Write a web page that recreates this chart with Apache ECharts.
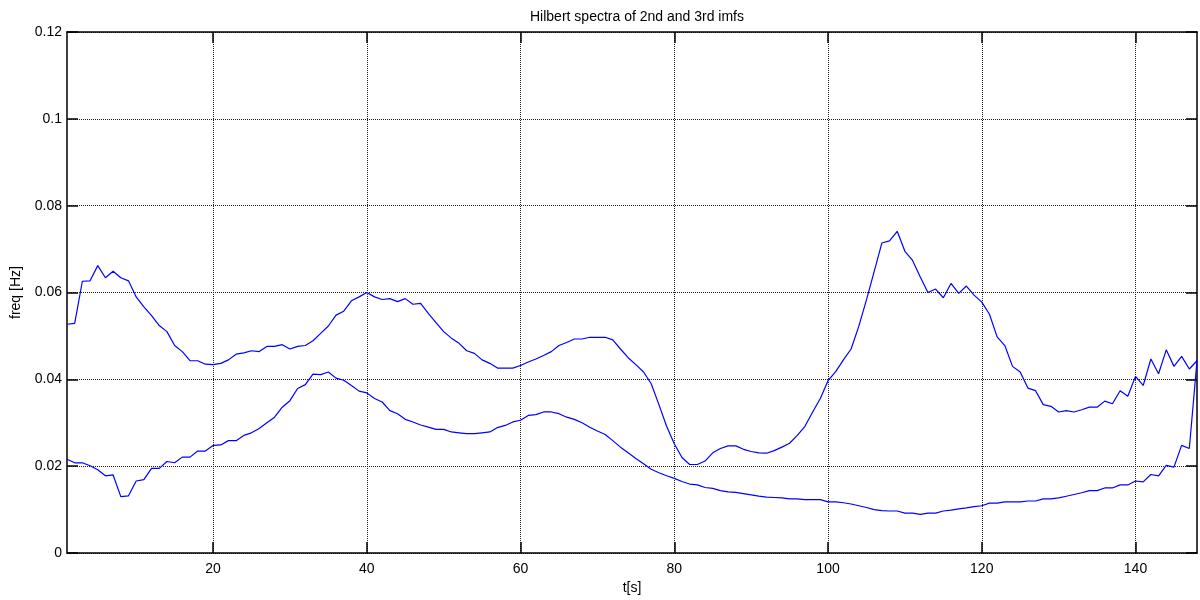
<!DOCTYPE html>
<html>
<head>
<meta charset="utf-8">
<script src="https://cdn.jsdelivr.net/npm/echarts@6/dist/echarts.min.js"></script>
<style>html,body{margin:0;padding:0;background:#fff;}#c{width:1200px;height:600px;}</style>
</head>
<body>
<div id="c"></div>
<script>
const t = Array.from({length: 148}, (_, i) => i + 1);
const xTicks = [20, 40, 60, 80, 100, 120, 140];
const yTicks = [0, 0.02, 0.04, 0.06, 0.08, 0.1, 0.12];
const imf2 = [
0.0527,0.0529,0.0626,0.0627,0.0662,0.0634,0.0649,0.0634,0.0627,0.0590,
0.0567,0.0547,0.0524,0.0510,0.0478,0.0464,0.0443,0.0443,0.0435,0.0434,
0.0437,0.0445,0.0458,0.0461,0.0466,0.0464,0.0476,0.0476,0.0480,0.0470,
0.0476,0.0478,0.0489,0.0506,0.0523,0.0548,0.0557,0.0581,0.0590,0.0600,
0.0590,0.0584,0.0586,0.0579,0.0586,0.0573,0.0575,0.0552,0.0531,0.0510,
0.0495,0.0483,0.0466,0.0460,0.0445,0.0437,0.0426,0.0426,0.0426,0.0432,
0.0440,0.0447,0.0455,0.0464,0.0478,0.0485,0.0493,0.0493,0.0497,0.0497,
0.0497,0.0491,0.0470,0.0450,0.0434,0.0417,0.0390,0.0342,0.0292,0.0252,
0.0220,0.0204,0.0204,0.0212,0.0231,0.0241,0.0247,0.0247,0.0239,0.0234,
0.0231,0.0230,0.0236,0.0244,0.0253,0.0271,0.0292,0.0325,0.0356,0.0397,
0.0418,0.0445,0.0470,0.0522,0.0583,0.0648,0.0714,0.0719,0.0741,0.0695,
0.0674,0.0636,0.0600,0.0608,0.0588,0.0621,0.0598,0.0615,0.0594,0.0578,
0.0550,0.0498,0.0478,0.0430,0.0417,0.0380,0.0374,0.0342,0.0338,0.0325,
0.0328,0.0325,0.0330,0.0336,0.0336,0.0350,0.0344,0.0374,0.0361,0.0407,
0.0386,0.0447,0.0413,0.0468,0.0430,0.0453,0.0424,0.0443
];
const imf3 = [
0.0216,0.0208,0.0208,0.0201,0.0192,0.0178,0.0180,0.0130,0.0132,0.0166,
0.0169,0.0195,0.0195,0.0211,0.0208,0.0221,0.0221,0.0235,0.0235,0.0248,
0.0249,0.0259,0.0259,0.0271,0.0277,0.0287,0.0300,0.0313,0.0336,0.0351,
0.0379,0.0388,0.0412,0.0411,0.0417,0.0403,0.0398,0.0386,0.0373,0.0369,
0.0356,0.0348,0.0328,0.0321,0.0308,0.0302,0.0295,0.0290,0.0285,0.0285,
0.0279,0.0277,0.0275,0.0275,0.0277,0.0279,0.0289,0.0294,0.0302,0.0306,
0.0317,0.0319,0.0325,0.0325,0.0321,0.0313,0.0308,0.0300,0.0290,0.0281,
0.0273,0.0259,0.0244,0.0231,0.0218,0.0206,0.0193,0.0185,0.0178,0.0172,
0.0165,0.0159,0.0157,0.0151,0.0149,0.0144,0.0141,0.0140,0.0137,0.0134,
0.0131,0.0129,0.0128,0.0127,0.0125,0.0125,0.0123,0.0123,0.0123,0.0118,
0.0118,0.0116,0.0113,0.0109,0.0105,0.0100,0.0098,0.0097,0.0097,0.0092,
0.0092,0.0089,0.0092,0.0092,0.0097,0.0099,0.0102,0.0104,0.0107,0.0109,
0.0115,0.0115,0.0118,0.0118,0.0118,0.0120,0.0120,0.0125,0.0125,0.0127,
0.0131,0.0135,0.0139,0.0144,0.0144,0.0150,0.0150,0.0157,0.0157,0.0166,
0.0164,0.0181,0.0178,0.0202,0.0198,0.0248,0.0241,0.0443
];

const FONT = 'Liberation Sans, Arial, sans-serif';
const chart = echarts.init(document.getElementById('c'), null, {renderer: 'canvas'});
const gridLine = {show: true, lineStyle: {color: '#222', type: [1, 1], width: 1}};
const axisLine = {show: true, onZero: false, lineStyle: {color: '#000', width: 1.5}};
const tick = (vals) => ({show: true, inside: true, length: 11, customValues: vals, lineStyle: {color: '#000', width: 1.5}});
const xBase = {
  type: 'value', min: 1, max: 148,
  axisLine: axisLine
};
const yBase = {
  type: 'value', min: 0, max: 0.12, interval: 0.02,
  axisLine: axisLine
};
chart.setOption({
  animation: false,
  backgroundColor: '#fff',
  title: {
    text: 'Hilbert spectra of 2nd and 3rd imfs',
    left: 632, top: 5, textAlign: 'center',
    textStyle: {fontFamily: FONT, fontSize: 14, fontWeight: 'normal', color: '#000'}
  },
  grid: {left: 67, right: 3, top: 32, bottom: 44, containLabel: false},
  xAxis: [
    Object.assign({}, xBase, {
      position: 'bottom',
      name: 't[s]', nameLocation: 'middle', nameGap: 27,
      nameTextStyle: {fontFamily: FONT, fontSize: 14, color: '#000'},
      axisTick: tick(xTicks),
      axisLabel: {show: true, customValues: xTicks, margin: 9, fontFamily: FONT, fontSize: 14, color: '#000'},
      splitLine: gridLine
    }),
    Object.assign({}, xBase, {
      position: 'top',
      axisTick: tick(xTicks),
      axisLabel: {show: false},
      splitLine: {show: false}
    })
  ],
  yAxis: [
    Object.assign({}, yBase, {
      position: 'left',
      name: 'freq [Hz]', nameLocation: 'middle', nameGap: 44, nameRotate: 90,
      nameTextStyle: {fontFamily: FONT, fontSize: 14, color: '#000'},
      axisTick: {show: true, inside: true, length: 11, lineStyle: {color: '#000', width: 1.5}},
      axisLabel: {show: true, margin: 5, fontFamily: FONT, fontSize: 14, color: '#000',
        formatter: v => String(+v.toFixed(2))},
      splitLine: gridLine
    }),
    Object.assign({}, yBase, {
      position: 'right',
      axisTick: {show: true, inside: true, length: 11, lineStyle: {color: '#000', width: 1.5}},
      axisLabel: {show: false},
      splitLine: {show: false}
    })
  ],
  series: [
    {type: 'line', name: 'imf2', xAxisIndex: 0, yAxisIndex: 0, showSymbol: false, symbol: 'none',
     data: t.map((x, i) => [x, imf2[i]]), lineStyle: {color: '#0000ff', width: 1.2}},
    {type: 'line', name: 'imf3', xAxisIndex: 0, yAxisIndex: 0, showSymbol: false, symbol: 'none',
     data: t.map((x, i) => [x, imf3[i]]), lineStyle: {color: '#0000ff', width: 1.2}}
  ]
});
</script>
</body>
</html>
